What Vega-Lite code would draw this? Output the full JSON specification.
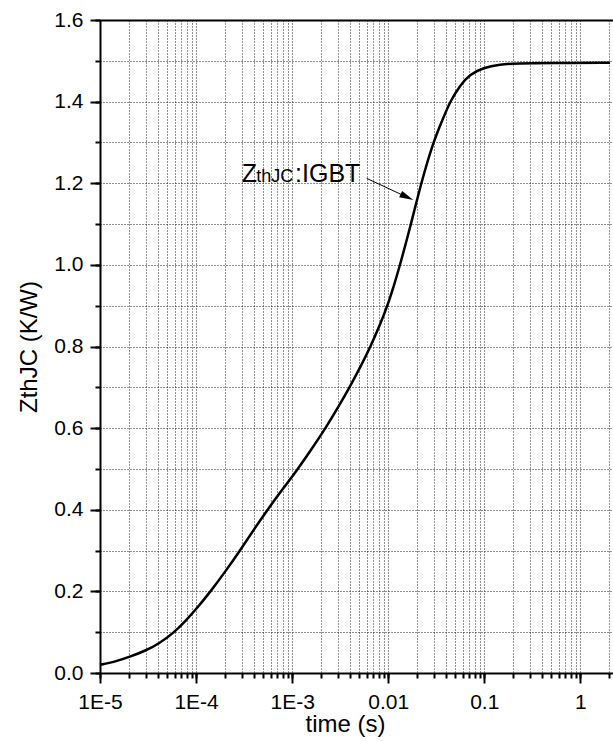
{
  "$schema": "https://vega.github.io/schema/vega-lite/v6.json",
  "autosize": "none",
  "padding": {"left": 100, "top": 20, "right": 0, "bottom": 68},
  "width": 513,
  "height": 653,
  "background": "white",
  "config": {
    "font": "Liberation Sans",
    "view": {"stroke": null},
    "axis": {
      "domainColor": "black", "domainWidth": 2,
      "tickColor": "black", "tickWidth": 2,
      "labelColor": "black", "labelFont": "Liberation Sans", "labelFontSize": 21,
      "titleColor": "black", "titleFont": "Liberation Sans", "titleFontWeight": "normal",
      "gridColor": "#222222", "gridDash": [1, 2], "gridWidth": 1, "gridOpacity": 1
    }
  },
  "datasets": {
    "curve": [
      {"t": 0.00001, "z": 0.020}, {"t": 0.000015, "z": 0.029}, {"t": 0.00002, "z": 0.039},
      {"t": 0.0000301, "z": 0.055}, {"t": 0.0000411, "z": 0.072}, {"t": 0.0000589, "z": 0.099},
      {"t": 0.0000767, "z": 0.126}, {"t": 0.0001, "z": 0.156}, {"t": 0.000143, "z": 0.201},
      {"t": 0.000205, "z": 0.251}, {"t": 0.000287, "z": 0.300}, {"t": 0.000396, "z": 0.350},
      {"t": 0.000554, "z": 0.400}, {"t": 0.000794, "z": 0.450}, {"t": 0.00115, "z": 0.500},
      {"t": 0.00161, "z": 0.550}, {"t": 0.00223, "z": 0.600}, {"t": 0.0030, "z": 0.650},
      {"t": 0.00396, "z": 0.700}, {"t": 0.00515, "z": 0.750}, {"t": 0.00655, "z": 0.800},
      {"t": 0.00812, "z": 0.850}, {"t": 0.00984, "z": 0.900}, {"t": 0.0115, "z": 0.950},
      {"t": 0.0133, "z": 1.000}, {"t": 0.0173, "z": 1.100}, {"t": 0.022, "z": 1.200},
      {"t": 0.0293, "z": 1.300}, {"t": 0.0372, "z": 1.358}, {"t": 0.044, "z": 1.400},
      {"t": 0.056, "z": 1.440}, {"t": 0.0711, "z": 1.467}, {"t": 0.0978, "z": 1.483},
      {"t": 0.146, "z": 1.491}, {"t": 0.218, "z": 1.494}, {"t": 0.484, "z": 1.495},
      {"t": 2.04, "z": 1.495}
    ],
    "arrow": [{"t": 0.00597, "z": 1.212, "t2": 0.0157, "z2": 1.166}],
    "label": [
      {"t": 0.000299, "z": 1.2024, "part": "Z"},
      {"t": 0.000299, "z": 1.2024, "part": "thJC"},
      {"t": 0.000299, "z": 1.2024, "part": ":IGBT"}
    ]
  },
  "resolve": {"axis": {"x": "independent", "y": "independent"}},
  "layer": [
    {
      "data": {"name": "curve"},
      "mark": {"type": "line", "color": "black", "strokeWidth": 2.5, "interpolate": "basis"},
      "encoding": {
        "x": {
          "field": "t", "type": "quantitative",
          "scale": {"type": "log", "domain": [0.00001, 2.19], "nice": false},
          "axis": {
            "orient": "bottom",
            "values": [0.00001,0.00002,0.00003,0.00004,0.00005,0.00006,0.00007,0.00008,0.00009,
                       0.0001,0.0002,0.0003,0.0004,0.0005,0.0006,0.0007,0.0008,0.0009,
                       0.001,0.002,0.003,0.004,0.005,0.006,0.007,0.008,0.009,
                       0.01,0.02,0.03,0.04,0.05,0.06,0.07,0.08,0.09,
                       0.1,0.2,0.3,0.4,0.5,0.6,0.7,0.8,0.9,
                       1,2],
            "labels": false,
            "tickSize": 5,
            "grid": true,
            "title": null
          }
        },
        "y": {
          "field": "z", "type": "quantitative",
          "scale": {"domain": [0, 1.6], "nice": false, "zero": false},
          "axis": {
            "orient": "left",
            "values": [0,0.1,0.2,0.3,0.4,0.5,0.6,0.7,0.8,0.9,1.0,1.1,1.2,1.3,1.4,1.5,1.6],
            "labels": false,
            "tickSize": 5,
            "grid": true,
            "title": null
          }
        }
      }
    },
    {
      "data": {"name": "arrow"},
      "mark": {"type": "rule", "color": "black", "strokeWidth": 1},
      "encoding": {
        "x": {"field": "t", "type": "quantitative", "axis": {"orient": "top", "domain": true, "domainWidth": 2, "ticks": false, "labels": false, "grid": false, "title": null}},
        "y": {"field": "z", "type": "quantitative", "axis": null},
        "x2": {"field": "t2"},
        "y2": {"field": "z2"}
      }
    },
    {
      "data": {"name": "arrow"},
      "mark": {"type": "point", "shape": "M-1,-0.5L1,0L-1,0.5Z", "size": 196, "angle": 25, "filled": true, "color": "black", "opacity": 1},
      "encoding": {
        "x": {
          "field": "t2", "type": "quantitative",
          "axis": {
            "orient": "bottom",
            "values": [0.00001, 0.0001, 0.001, 0.01, 0.1, 1],
            "labelExpr": "datum.value < 0.0015 ? '1E' + round(log(datum.value)/LN10) : format(datum.value, '~g')",
            "labelFontSize": 21,
            "tickSize": 10,
            "labelPadding": 8,
            "labelOverlap": false,
            "labelFlush": false,
            "domain": false,
            "grid": false,
            "title": "time (s)",
            "titleFontSize": 24,
            "titlePadding": 0,
            "titleX": 245
          }
        },
        "y": {
          "field": "z2", "type": "quantitative",
          "axis": {
            "orient": "left",
            "values": [0, 0.2, 0.4, 0.6, 0.8, 1.0, 1.2, 1.4, 1.6],
            "format": ".1f",
            "labelFontSize": 21,
            "tickSize": 10,
            "labelPadding": 7,
            "labelOverlap": false,
            "labelFlush": false,
            "domain": false,
            "grid": false,
            "title": "ZthJC (K/W)",
            "titleFontSize": 24,
            "titlePadding": 12
          }
        }
      }
    },
    {
      "data": {"name": "label"},
      "transform": [{"filter": "datum.part == 'Z'"}],
      "mark": {"type": "text", "align": "left", "baseline": "alphabetic", "fontSize": 25, "color": "black", "font": "Liberation Sans"},
      "encoding": {
        "x": {"field": "t", "type": "quantitative", "axis": null},
        "y": {"field": "z", "type": "quantitative", "axis": null},
        "text": {"field": "part"}
      }
    },
    {
      "data": {"name": "label"},
      "transform": [{"filter": "datum.part == 'thJC'"}],
      "mark": {"type": "text", "align": "left", "baseline": "alphabetic", "fontSize": 18, "dx": 14.5, "color": "black", "font": "Liberation Sans"},
      "encoding": {
        "x": {"field": "t", "type": "quantitative", "axis": null},
        "y": {"field": "z", "type": "quantitative", "axis": null},
        "text": {"field": "part"}
      }
    },
    {
      "data": {"name": "label"},
      "transform": [{"filter": "datum.part == ':IGBT'"}],
      "mark": {"type": "text", "align": "left", "baseline": "alphabetic", "fontSize": 25, "dx": 53.3, "color": "black", "font": "Liberation Sans"},
      "encoding": {
        "x": {"field": "t", "type": "quantitative", "axis": null},
        "y": {"field": "z", "type": "quantitative", "axis": null},
        "text": {"field": "part"}
      }
    }
  ]
}
